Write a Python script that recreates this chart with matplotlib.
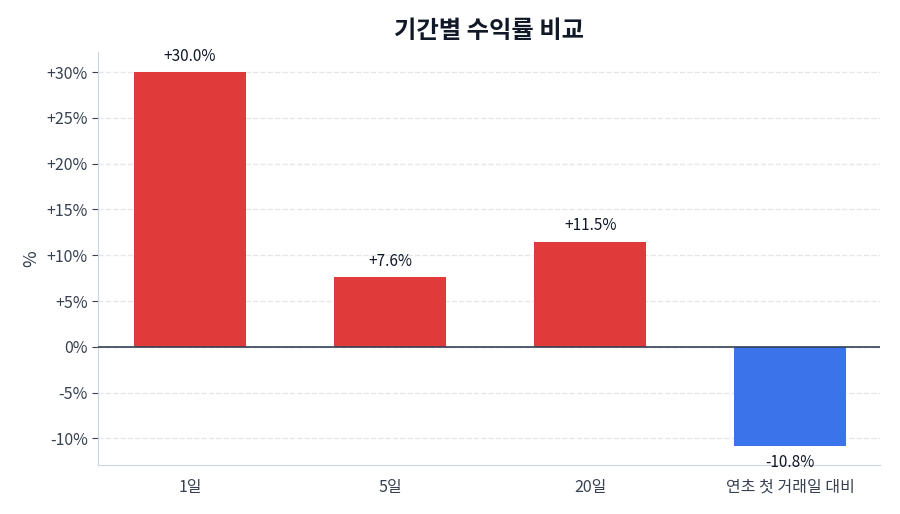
import numpy as np
import matplotlib
matplotlib.use("Agg")
import matplotlib.pyplot as plt

plt.rcParams['font.family'] = ['Noto Sans CJK KR', 'DejaVu Sans']

periods = ['1일', '5일', '20일', '연초 첫 거래일 대비']
returns = [30.0, 7.6, 11.5, -10.8]
yticks = [-10, -5, 0, 5, 10, 15, 20, 25, 30]

fig = plt.figure(figsize=(9, 5.14), dpi=100)
ax = fig.add_axes([0.109, 0.0953, 0.869, 0.8037])

x = np.arange(len(periods))
colors = ['#e03a3a' if v >= 0 else '#3a73ea' for v in returns]
ax.bar(x, returns, width=0.56, color=colors, zorder=3)

for xi, v in zip(x, returns):
    if v >= 0:
        ax.text(xi, v + 0.8, f'{v:+.1f}%', ha='center', va='bottom', fontsize=11, color='#111827')
    else:
        ax.text(xi, v - 0.9, f'{v:+.1f}%', ha='center', va='top', fontsize=11, color='#111827')

ax.axhline(0, color='#334155', linewidth=1.2, zorder=4)
ax.set_xlim(-0.46, 3.45)
ax.set_ylim(-12.9, 32.2)
ax.set_yticks(yticks)
ax.set_yticklabels([f'{t:+d}%' if t != 0 else '0%' for t in yticks])
ax.set_xticks(x)
ax.set_xticklabels(periods)
ax.tick_params(axis='both', labelsize=11.5, colors='#374151')
ax.tick_params(axis='x', length=0, pad=10)
ax.tick_params(axis='y', length=4, color='#374151')
ax.yaxis.grid(True, linestyle='--', color='#e5e7eb', linewidth=1, zorder=0)
ax.set_ylabel('%', fontsize=13, color='#374151')

for s in ['top', 'right']:
    ax.spines[s].set_visible(False)
for s in ['left', 'bottom']:
    ax.spines[s].set_color('#cbd5e1')

ax.set_title('기간별 수익률 비교', fontsize=17.5, fontweight='bold', color='#111827', pad=10)

fig.savefig('out.png')
